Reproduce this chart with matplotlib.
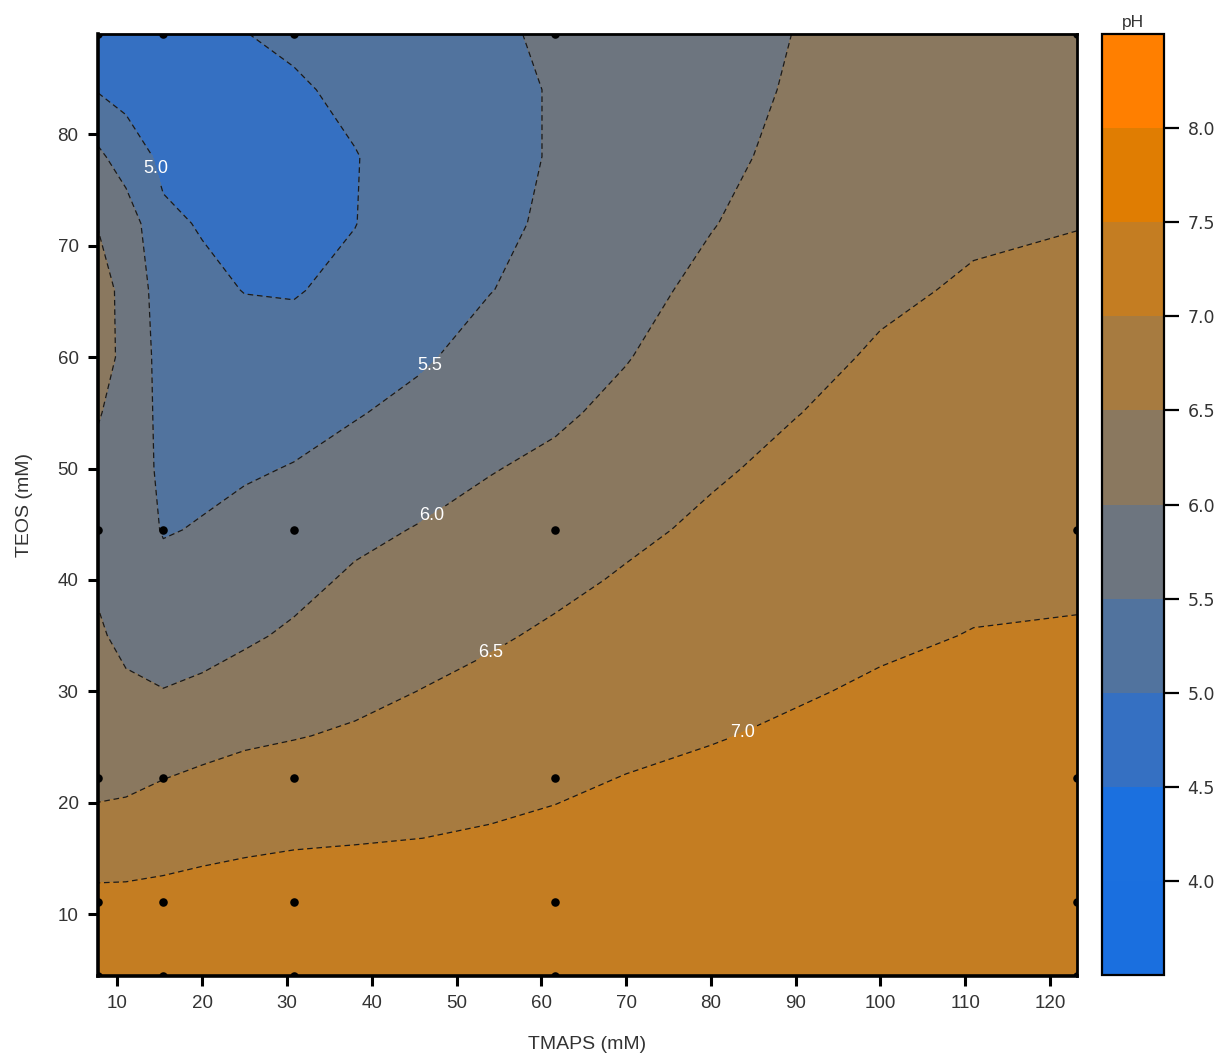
import numpy as np
import matplotlib
matplotlib.use("Agg")
import matplotlib.pyplot as plt

plt.rcParams['font.family'] = ['Liberation Sans', 'DejaVu Sans']

# Grid nodes (mM)
tmaps = [7.7, 11, 15.4, 20, 25, 30.8, 38, 46, 54, 61.6, 70, 80, 90, 100, 111, 123.2]
teos = [4.45, 11.1, 16, 22.25, 26, 30, 35, 40, 44.5, 50, 55, 60, 66, 72, 78, 84, 89]

# pH on the grid, one list per TMAPS column (bottom to top in TEOS)
ph_cols = [
    [7.30, 7.15, 6.72, 6.38, 6.30, 6.19, 6.05, 5.95, 5.90, 5.93, 6.02, 6.10, 6.10, 5.99, 5.60, 4.97, 4.80],
    [7.32, 7.14, 6.76, 6.40, 6.24, 6.07, 5.90, 5.82, 5.78, 5.80, 5.88, 5.94, 5.93, 5.78, 5.25, 4.85, 4.70],
    [7.34, 7.14, 6.85, 6.49, 6.26, 6.01, 5.83, 5.64, 5.47, 5.40, 5.35, 5.30, 5.22, 5.08, 4.90, 4.82, 4.75],
    [7.36, 7.15, 6.92, 6.57, 6.34, 6.07, 5.86, 5.69, 5.53, 5.40, 5.31, 5.21, 5.09, 4.97, 4.85, 4.75, 4.70],
    [7.38, 7.17, 6.96, 6.63, 6.43, 6.18, 5.94, 5.78, 5.63, 5.45, 5.31, 5.17, 4.99, 4.82, 4.74, 4.80, 4.99],
    [7.40, 7.20, 6.99, 6.68, 6.48, 6.30, 6.06, 5.88, 5.72, 5.52, 5.35, 5.18, 4.97, 4.80, 4.75, 4.93, 5.10],
    [7.42, 7.23, 7.01, 6.73, 6.55, 6.40, 6.23, 6.06, 5.90, 5.67, 5.47, 5.30, 5.12, 4.99, 4.98, 5.12, 5.22],
    [7.43, 7.26, 7.03, 6.80, 6.65, 6.51, 6.34, 6.18, 6.03, 5.82, 5.63, 5.45, 5.35, 5.28, 5.25, 5.27, 5.30],
    [7.44, 7.28, 7.07, 6.86, 6.75, 6.61, 6.45, 6.30, 6.15, 5.98, 5.82, 5.67, 5.49, 5.42, 5.42, 5.42, 5.45],
    [7.45, 7.30, 7.11, 6.93, 6.82, 6.70, 6.56, 6.41, 6.27, 6.09, 5.93, 5.78, 5.65, 5.56, 5.52, 5.52, 5.55],
    [7.46, 7.33, 7.16, 7.01, 6.90, 6.80, 6.67, 6.54, 6.42, 6.25, 6.11, 5.98, 5.86, 5.78, 5.73, 5.72, 5.72],
    [7.47, 7.36, 7.22, 7.07, 6.98, 6.89, 6.78, 6.67, 6.57, 6.45, 6.34, 6.24, 6.11, 5.98, 5.88, 5.82, 5.80],
    [7.47, 7.39, 7.28, 7.14, 7.05, 6.97, 6.88, 6.78, 6.69, 6.59, 6.49, 6.40, 6.30, 6.20, 6.12, 6.05, 6.01],
    [7.47, 7.41, 7.32, 7.20, 7.11, 7.04, 6.95, 6.87, 6.80, 6.71, 6.62, 6.54, 6.44, 6.36, 6.30, 6.26, 6.24],
    [7.47, 7.42, 7.35, 7.25, 7.17, 7.10, 7.01, 6.94, 6.87, 6.79, 6.71, 6.63, 6.54, 6.45, 6.39, 6.35, 6.33],
    [7.47, 7.43, 7.37, 7.27, 7.20, 7.12, 7.03, 6.95, 6.89, 6.82, 6.74, 6.67, 6.58, 6.49, 6.43, 6.39, 6.37],
]

# Measured sample compositions
sample_tmaps = [7.7, 15.4, 30.8, 61.6, 123.2]
sample_teos = [4.45, 11.1, 22.25, 44.5, 89]

levels = [3.5, 4.0, 4.5, 5.0, 5.5, 6.0, 6.5, 7.0, 7.5, 8.0, 8.5]
band_colors = ['#1a6fdf', '#1b70df', '#3570c2', '#51739e', '#6d757f',
               '#8a785f', '#a77b40', '#c47d22', '#e07d02', '#ff7f00']
line_levels = [4.0, 4.5, 5.0, 5.5, 6.0, 6.5, 7.0, 7.5, 8.0]
label_pos = [(13.5, 76.7), (47.1, 59.1), (46.8, 46.1), (53.6, 34.0), (83.8, 26.1)]

X, Y = np.meshgrid(tmaps, teos)
Z = np.array(ph_cols).T

fig = plt.figure(figsize=(12.22, 10.56), dpi=100)
ax = fig.add_axes([98 / 1222, 80 / 1056, 979 / 1222, 942 / 1056])
cax = fig.add_axes([1102 / 1222, 81 / 1056, 62 / 1222, 941 / 1056])

cf = ax.contourf(X, Y, Z, levels=levels, colors=band_colors)
cs = ax.contour(X, Y, Z, levels=line_levels, colors='#1a1a1a',
                linewidths=0.9, linestyles='dashed')
cs.set_dashes([(0, (4.5, 3))])
labels = ax.clabel(cs, inline=True, fmt='%.1f', colors='white', fontsize=13,
                   manual=label_pos, inline_spacing=4)
for t in labels:
    t.set_rotation(0)

sx, sy = np.meshgrid(sample_tmaps, sample_teos)
ax.scatter(sx.ravel(), sy.ravel(), s=38, color='black', zorder=5, linewidths=0)

ax.set_xlim(tmaps[0], tmaps[-1])
ax.set_ylim(teos[0], teos[-1])
ax.set_xticks(np.arange(10, 121, 10))
ax.set_yticks(np.arange(10, 81, 10))

text_color = '#333333'
ax.tick_params(direction='out', length=7, width=2.2, labelsize=13.5,
               labelcolor=text_color, color='black', pad=7)
for side in ['left', 'bottom']:
    ax.spines[side].set_linewidth(2.6)
for side in ['top', 'right']:
    ax.spines[side].set_linewidth(2.0)

ax.set_xlabel('TMAPS (mM)', fontsize=14, color=text_color, labelpad=17)
ax.set_ylabel('TEOS (mM)', fontsize=14, color=text_color, labelpad=18)

cb = fig.colorbar(cf, cax=cax, ticks=[4.0, 4.5, 5.0, 5.5, 6.0, 6.5, 7.0, 7.5, 8.0])
cb.ax.yaxis.set_major_formatter(matplotlib.ticker.FormatStrFormatter('%.1f'))
cb.outline.set_linewidth(1.6)
cb.outline.set_edgecolor('black')
cax.tick_params(direction='out', length=11, width=1.6, labelsize=12.5,
                labelcolor=text_color, pad=6)
for t in cax.get_yticklabels():
    t.set_family('DejaVu Sans')
cax.set_title('pH', fontsize=12.5, color=text_color, pad=5)

fig.savefig('out.png', dpi=100)
